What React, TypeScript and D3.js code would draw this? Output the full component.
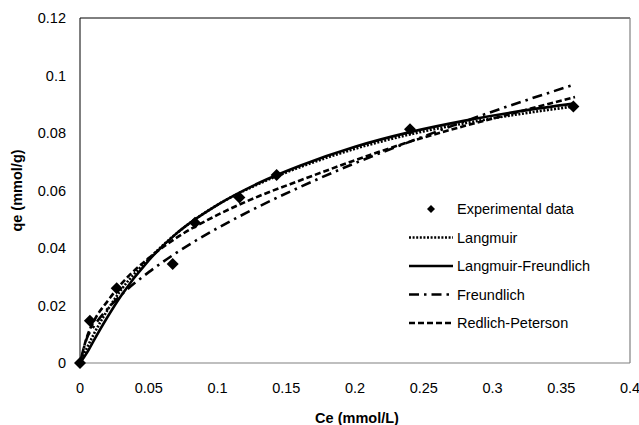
import React from "react";
import * as d3 from "d3";

const ceData = [0, 0.0072, 0.0267, 0.0674, 0.0836, 0.1159, 0.143, 0.24, 0.3588];
const qeData = [0, 0.0147, 0.026, 0.0344, 0.0488, 0.0576, 0.0654, 0.0813, 0.0892];

const curveX = [0, 0.005, 0.01, 0.02, 0.03, 0.05, 0.07, 0.1, 0.13, 0.16, 0.2, 0.24, 0.28, 0.32, 0.36];
const langmuirY = [0, 0.0052, 0.0100, 0.0184, 0.0255, 0.0362, 0.0450, 0.0550, 0.0623, 0.0681, 0.0745, 0.0795, 0.0834, 0.0866, 0.0893];
const lfY = [0, 0.0035, 0.0078, 0.016, 0.0235, 0.0357, 0.0450, 0.0550, 0.0626, 0.0686, 0.0752, 0.0803, 0.0843, 0.0876, 0.0903];
const freundlichY = [0, 0.0086, 0.0127, 0.0188, 0.0237, 0.0316, 0.0383, 0.0469, 0.0544, 0.0612, 0.0695, 0.0770, 0.0841, 0.0907, 0.0969];
const rpY = [0, 0.009, 0.0145, 0.0215, 0.0275, 0.0365, 0.0435, 0.0515, 0.058, 0.0635, 0.0705, 0.0770, 0.0825, 0.0875, 0.0925];

const xTicks = [0, 0.05, 0.1, 0.15, 0.2, 0.25, 0.3, 0.35, 0.4];
const yTicks = [0, 0.02, 0.04, 0.06, 0.08, 0.1, 0.12];

const series = [
  { name: "Langmuir", values: langmuirY, dash: "2,1.6" },
  { name: "Langmuir-Freundlich", values: lfY, dash: "" },
  { name: "Freundlich", values: freundlichY, dash: "10,5,2.5,5" },
  { name: "Redlich-Peterson", values: rpY, dash: "6,3" },
];

const W = 639, H = 425;
const L = 80, R = 630, T = 18, B = 363;
const FONT = "'Liberation Sans', Arial, sans-serif";

export default function App() {
  const x = d3.scaleLinear().domain([0, 0.4]).range([L, R]);
  const y = d3.scaleLinear().domain([0, 0.12]).range([B, T]);
  const line = d3
    .line<number>()
    .x((_, i) => x(curveX[i]))
    .y((d) => y(d))
    .curve(d3.curveMonotoneX);
  const diamond = (cx: number, cy: number, r: number) =>
    `M${cx},${cy - r}L${cx + r},${cy}L${cx},${cy + r}L${cx - r},${cy}Z`;

  const legendX0 = 409, legendX1 = 453, legendText = 457;
  const legendY = [209, 237.5, 266, 294.5, 323];

  return (
    <svg width={W} height={H} style={{ position: "absolute", left: 0, top: 0, background: "#fff" }} fontFamily={FONT}>
      <rect x={0} y={0} width={W} height={H} fill="#fff" />
      <line x1={L} y1={T} x2={R} y2={T} stroke="#000" strokeWidth={1} />
      <line x1={L} y1={T} x2={L} y2={B} stroke="#000" strokeWidth={1} />
      <line x1={R} y1={T} x2={R} y2={B} stroke="#808080" strokeWidth={1.2} />
      <line x1={L} y1={B} x2={R} y2={B} stroke="#808080" strokeWidth={1.2} />

      {yTicks.map((t) => (
        <text key={t} x={66} y={y(t)} dy="0.35em" textAnchor="end" fontSize={14.5} fill="#000">
          {String(t)}
        </text>
      ))}
      {xTicks.map((t) => (
        <text key={t} x={x(t)} y={388} dy="0.35em" textAnchor="middle" fontSize={14.5} fill="#000">
          {String(t)}
        </text>
      ))}
      <text x={357} y={418} dy="0.35em" textAnchor="middle" fontSize={14.5} fontWeight="bold">
        Ce (mmol/L)
      </text>
      <text
        transform={`translate(17,${(T + B) / 2}) rotate(-90)`}
        dy="0.35em"
        textAnchor="middle"
        fontSize={14.5}
        fontWeight="bold"
      >
        qe (mmol/g)
      </text>

      {series.map((s) => (
        <path
          key={s.name}
          d={line(s.values) || ""}
          fill="none"
          stroke="#000"
          strokeWidth={2.6}
          strokeDasharray={s.dash || undefined}
        />
      ))}

      {ceData.map((c, i) => (
        <path key={i} d={diamond(x(c), y(qeData[i]), 6)} fill="#000" />
      ))}

      <path d={diamond((legendX0 + legendX1) / 2, legendY[0], 4)} fill="#000" />
      <text x={legendText} y={legendY[0]} dy="0.35em" fontSize={14.5}>Experimental data</text>
      {series.map((s, i) => (
        <g key={s.name}>
          <line
            x1={legendX0}
            x2={legendX1}
            y1={legendY[i + 1]}
            y2={legendY[i + 1]}
            stroke="#000"
            strokeWidth={2.4}
            strokeDasharray={s.dash || undefined}
          />
          <text x={legendText} y={legendY[i + 1]} dy="0.35em" fontSize={14.5}>
            {s.name}
          </text>
        </g>
      ))}
    </svg>
  );
}
